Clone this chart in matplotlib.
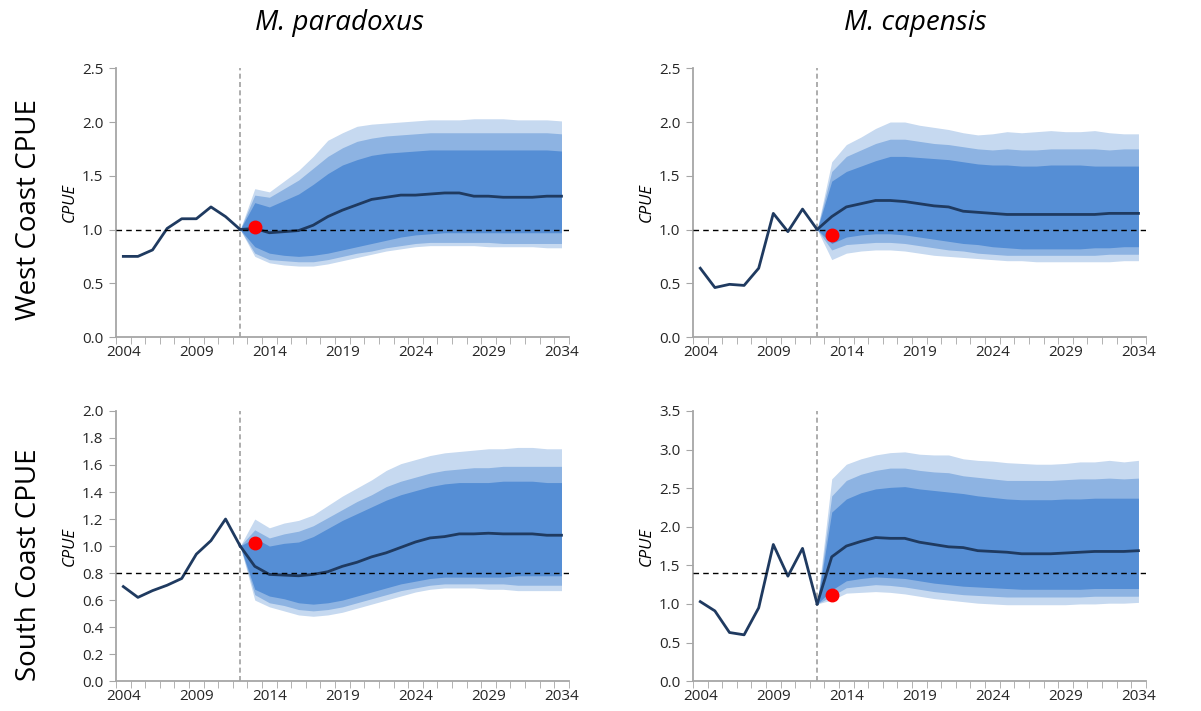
import matplotlib.pyplot as plt
import matplotlib.ticker as mticker
import numpy as np

plt.rcParams['font.family'] = ['Open Sans', 'DejaVu Sans']

##########################
## Data

hist_years = np.arange(2004, 2013)
proj_years = np.arange(2012, 2035)

# West Coast, M. paradoxus
wp_hist = [0.75, 0.75, 0.81, 1.01, 1.10, 1.10, 1.21, 1.12, 1.00]
wp_med = [1.00, 1.01, 0.97, 0.98, 0.99, 1.04, 1.12, 1.18, 1.23, 1.28, 1.30, 1.32, 1.32,
          1.33, 1.34, 1.34, 1.31, 1.31, 1.30, 1.30, 1.30, 1.31, 1.31]
wp_hi3 = [1.00, 1.38, 1.35, 1.45, 1.55, 1.68, 1.83, 1.90, 1.96, 1.98, 1.99, 2.00, 2.01,
          2.02, 2.02, 2.02, 2.03, 2.03, 2.03, 2.02, 2.02, 2.02, 2.01]
wp_hi2 = [1.00, 1.32, 1.30, 1.38, 1.46, 1.57, 1.68, 1.76, 1.82, 1.85, 1.87, 1.88, 1.89,
          1.90, 1.90, 1.90, 1.90, 1.90, 1.90, 1.90, 1.90, 1.90, 1.89]
wp_hi1 = [1.00, 1.25, 1.21, 1.27, 1.33, 1.42, 1.52, 1.60, 1.65, 1.69, 1.71, 1.72, 1.73,
          1.74, 1.74, 1.74, 1.74, 1.74, 1.74, 1.74, 1.74, 1.74, 1.73]
wp_lo1 = [1.00, 0.84, 0.78, 0.76, 0.75, 0.76, 0.78, 0.81, 0.84, 0.87, 0.90, 0.93, 0.95,
          0.96, 0.97, 0.97, 0.97, 0.97, 0.97, 0.97, 0.97, 0.97, 0.97]
wp_lo2 = [1.00, 0.78, 0.72, 0.71, 0.70, 0.70, 0.72, 0.75, 0.78, 0.80, 0.83, 0.85, 0.87,
          0.88, 0.88, 0.88, 0.88, 0.88, 0.87, 0.87, 0.87, 0.87, 0.87]
wp_lo3 = [1.00, 0.75, 0.69, 0.67, 0.66, 0.66, 0.68, 0.71, 0.74, 0.77, 0.80, 0.82, 0.84,
          0.85, 0.85, 0.85, 0.85, 0.84, 0.84, 0.84, 0.84, 0.83, 0.83]
wp_obs = 1.02
wp_ref = 1.0

# West Coast, M. capensis
wc_hist = [0.64, 0.46, 0.49, 0.48, 0.64, 1.15, 0.98, 1.19, 1.00]
wc_med = [1.00, 1.12, 1.21, 1.24, 1.27, 1.27, 1.26, 1.24, 1.22, 1.21, 1.17, 1.16, 1.15,
          1.14, 1.14, 1.14, 1.14, 1.14, 1.14, 1.14, 1.15, 1.15, 1.15]
wc_hi3 = [1.00, 1.63, 1.79, 1.86, 1.94, 2.00, 2.00, 1.97, 1.95, 1.93, 1.90, 1.88, 1.89,
          1.91, 1.90, 1.91, 1.92, 1.91, 1.91, 1.92, 1.90, 1.89, 1.89]
wc_hi2 = [1.00, 1.54, 1.68, 1.74, 1.80, 1.84, 1.84, 1.82, 1.80, 1.79, 1.77, 1.75, 1.74,
          1.75, 1.74, 1.74, 1.75, 1.75, 1.75, 1.75, 1.74, 1.75, 1.75]
wc_hi1 = [1.00, 1.45, 1.54, 1.59, 1.64, 1.68, 1.68, 1.67, 1.66, 1.65, 1.63, 1.61, 1.60,
          1.60, 1.59, 1.59, 1.60, 1.60, 1.60, 1.59, 1.59, 1.59, 1.59]
wc_lo1 = [1.00, 0.87, 0.93, 0.95, 0.96, 0.96, 0.95, 0.93, 0.91, 0.89, 0.87, 0.86, 0.84,
          0.83, 0.82, 0.82, 0.82, 0.82, 0.82, 0.83, 0.83, 0.84, 0.84]
wc_lo2 = [1.00, 0.81, 0.86, 0.87, 0.88, 0.88, 0.87, 0.85, 0.83, 0.81, 0.80, 0.78, 0.77,
          0.76, 0.76, 0.76, 0.76, 0.76, 0.76, 0.76, 0.77, 0.77, 0.77]
wc_lo3 = [1.00, 0.72, 0.78, 0.80, 0.81, 0.81, 0.80, 0.78, 0.76, 0.75, 0.74, 0.73, 0.72,
          0.71, 0.71, 0.70, 0.70, 0.70, 0.70, 0.70, 0.70, 0.71, 0.71]
wc_obs = 0.95
wc_ref = 1.0

# South Coast, M. paradoxus
sp_hist = [0.70, 0.62, 0.67, 0.71, 0.76, 0.94, 1.04, 1.20, 1.00]
sp_med = [1.00, 0.85, 0.79, 0.785, 0.78, 0.79, 0.81, 0.85, 0.88, 0.92, 0.95, 0.99, 1.03,
          1.06, 1.07, 1.09, 1.09, 1.095, 1.09, 1.09, 1.09, 1.08, 1.08]
sp_hi3 = [1.00, 1.20, 1.135, 1.17, 1.19, 1.23, 1.30, 1.37, 1.43, 1.49, 1.56, 1.61, 1.64,
          1.67, 1.69, 1.70, 1.71, 1.72, 1.72, 1.73, 1.73, 1.72, 1.72]
sp_hi2 = [1.00, 1.12, 1.06, 1.09, 1.11, 1.15, 1.21, 1.27, 1.33, 1.38, 1.44, 1.48, 1.51,
          1.54, 1.56, 1.57, 1.58, 1.58, 1.59, 1.59, 1.59, 1.59, 1.59]
sp_hi1 = [1.00, 1.06, 1.00, 1.02, 1.03, 1.07, 1.13, 1.19, 1.24, 1.29, 1.34, 1.38, 1.41,
          1.44, 1.46, 1.47, 1.47, 1.47, 1.48, 1.48, 1.48, 1.47, 1.47]
sp_lo1 = [1.00, 0.68, 0.63, 0.61, 0.58, 0.57, 0.58, 0.60, 0.63, 0.66, 0.69, 0.72, 0.74,
          0.76, 0.77, 0.77, 0.77, 0.77, 0.77, 0.78, 0.78, 0.78, 0.78]
sp_lo2 = [1.00, 0.64, 0.58, 0.56, 0.53, 0.52, 0.53, 0.55, 0.58, 0.61, 0.64, 0.67, 0.69,
          0.71, 0.72, 0.72, 0.72, 0.72, 0.72, 0.71, 0.71, 0.71, 0.71]
sp_lo3 = [1.00, 0.60, 0.55, 0.52, 0.49, 0.48, 0.49, 0.51, 0.54, 0.57, 0.60, 0.63, 0.66,
          0.68, 0.69, 0.69, 0.69, 0.68, 0.68, 0.67, 0.67, 0.67, 0.67]
sp_obs = 1.02
sp_ref = 0.8

# South Coast, M. capensis
sc_hist = [1.03, 0.91, 0.63, 0.60, 0.95, 1.77, 1.36, 1.72, 1.00]
sc_med = [1.00, 1.61, 1.75, 1.81, 1.86, 1.85, 1.85, 1.80, 1.77, 1.74, 1.73, 1.69, 1.68,
          1.67, 1.65, 1.65, 1.65, 1.66, 1.67, 1.68, 1.68, 1.68, 1.69]
sc_hi3 = [1.00, 2.62, 2.81, 2.88, 2.93, 2.96, 2.97, 2.94, 2.93, 2.93, 2.88, 2.86, 2.85,
          2.83, 2.82, 2.81, 2.81, 2.82, 2.84, 2.84, 2.86, 2.84, 2.86]
sc_hi2 = [1.00, 2.40, 2.60, 2.68, 2.73, 2.76, 2.76, 2.73, 2.71, 2.70, 2.66, 2.64, 2.62,
          2.60, 2.60, 2.60, 2.60, 2.61, 2.62, 2.62, 2.63, 2.62, 2.63]
sc_hi1 = [1.00, 2.19, 2.36, 2.44, 2.49, 2.51, 2.52, 2.49, 2.47, 2.45, 2.43, 2.40, 2.38,
          2.36, 2.35, 2.35, 2.35, 2.36, 2.36, 2.37, 2.37, 2.37, 2.37]
sc_lo1 = [1.00, 1.18, 1.30, 1.33, 1.35, 1.34, 1.33, 1.30, 1.27, 1.25, 1.23, 1.22, 1.21,
          1.20, 1.19, 1.19, 1.19, 1.19, 1.19, 1.20, 1.20, 1.20, 1.20]
sc_lo2 = [1.00, 1.10, 1.21, 1.23, 1.25, 1.24, 1.22, 1.19, 1.16, 1.14, 1.12, 1.11, 1.10,
          1.09, 1.09, 1.09, 1.09, 1.09, 1.09, 1.10, 1.10, 1.10, 1.10]
sc_lo3 = [1.00, 1.05, 1.14, 1.15, 1.16, 1.15, 1.13, 1.10, 1.07, 1.05, 1.03, 1.01, 1.00,
          0.99, 0.99, 0.99, 0.99, 0.99, 1.00, 1.00, 1.01, 1.01, 1.02]
sc_obs = 1.12
sc_ref = 1.4

species = ["M. paradoxus", "M. capensis"]
regions = ["West Coast CPUE", "South Coast CPUE"]

##########################
## Style

c_light = "#C6D9F0"
c_mid = "#8DB3E2"
c_dark = "#558ED5"
c_line = "#1F3A60"
c_spine = "#A6A6A6"

panels = [
    # (hist, med, bands, obs, ref, ymax, ystep, axes rect)
    (wp_hist, wp_med, (wp_lo3, wp_hi3, wp_lo2, wp_hi2, wp_lo1, wp_hi1), wp_obs, wp_ref,
     2.5, 0.5, [0.0966, 0.526, 0.377, 0.378]),
    (wc_hist, wc_med, (wc_lo3, wc_hi3, wc_lo2, wc_hi2, wc_lo1, wc_hi1), wc_obs, wc_ref,
     2.5, 0.5, [0.577, 0.526, 0.377, 0.378]),
    (sp_hist, sp_med, (sp_lo3, sp_hi3, sp_lo2, sp_hi2, sp_lo1, sp_hi1), sp_obs, sp_ref,
     2.0, 0.2, [0.0966, 0.042, 0.377, 0.380]),
    (sc_hist, sc_med, (sc_lo3, sc_hi3, sc_lo2, sc_hi2, sc_lo1, sc_hi1), sc_obs, sc_ref,
     3.5, 0.5, [0.577, 0.042, 0.377, 0.380]),
]

fig = plt.figure(figsize=(12.01, 7.11), dpi=100)

for hist, med, bands, obs, ref, ymax, ystep, rect in panels:
    ax = fig.add_axes(rect)
    lo3, hi3, lo2, hi2, lo1, hi1 = bands
    ax.fill_between(proj_years, lo3, hi3, color=c_light, lw=0)
    ax.fill_between(proj_years, lo2, hi2, color=c_mid, lw=0)
    ax.fill_between(proj_years, lo1, hi1, color=c_dark, lw=0)
    ax.plot(hist_years, hist, color=c_line, lw=2)
    ax.plot(proj_years, med, color=c_line, lw=2)
    ax.axhline(ref, color="black", lw=1, ls=(0, (4, 3)), zorder=3)
    ax.axvline(2012, color="#A0A0A0", lw=1.2, ls=(0, (3, 2)), zorder=1)
    ax.plot([2013], [obs], "o", color="red", ms=9, zorder=4)

    ax.set_xlim(2003.5, 2034.5)
    ax.set_ylim(0, ymax)
    ax.set_xticks(np.arange(2004, 2035, 5))
    ax.xaxis.set_minor_locator(mticker.FixedLocator(np.arange(2003.5, 2035, 1)))
    ax.tick_params(axis="x", which="major", length=0, pad=6, labelsize=11,
                   labelcolor="#262626")
    ax.tick_params(axis="x", which="minor", length=5, color=c_spine, direction="out")
    ax.yaxis.set_major_locator(mticker.MultipleLocator(ystep))
    ax.yaxis.set_major_formatter(mticker.FormatStrFormatter("%.1f"))
    ax.tick_params(axis="y", length=5, color=c_spine, labelsize=11, pad=4,
                   labelcolor="#262626")
    for side in ("top", "right"):
        ax.spines[side].set_visible(False)
    for side in ("left", "bottom"):
        ax.spines[side].set_color(c_spine)
        ax.spines[side].set_linewidth(1.3)
    ax.set_ylabel("CPUE", fontsize=12, style="italic", labelpad=3)

fig.text(0.283, 0.968, species[0], fontsize=20, style="italic", ha="center", va="center")
fig.text(0.762, 0.968, species[1], fontsize=20, style="italic", ha="center", va="center")
fig.text(0.024, 0.705, regions[0], fontsize=20, rotation=90, ha="center", va="center")
fig.text(0.024, 0.205, regions[1], fontsize=20, rotation=90, ha="center", va="center")

fig.savefig("out.png", dpi=100)
